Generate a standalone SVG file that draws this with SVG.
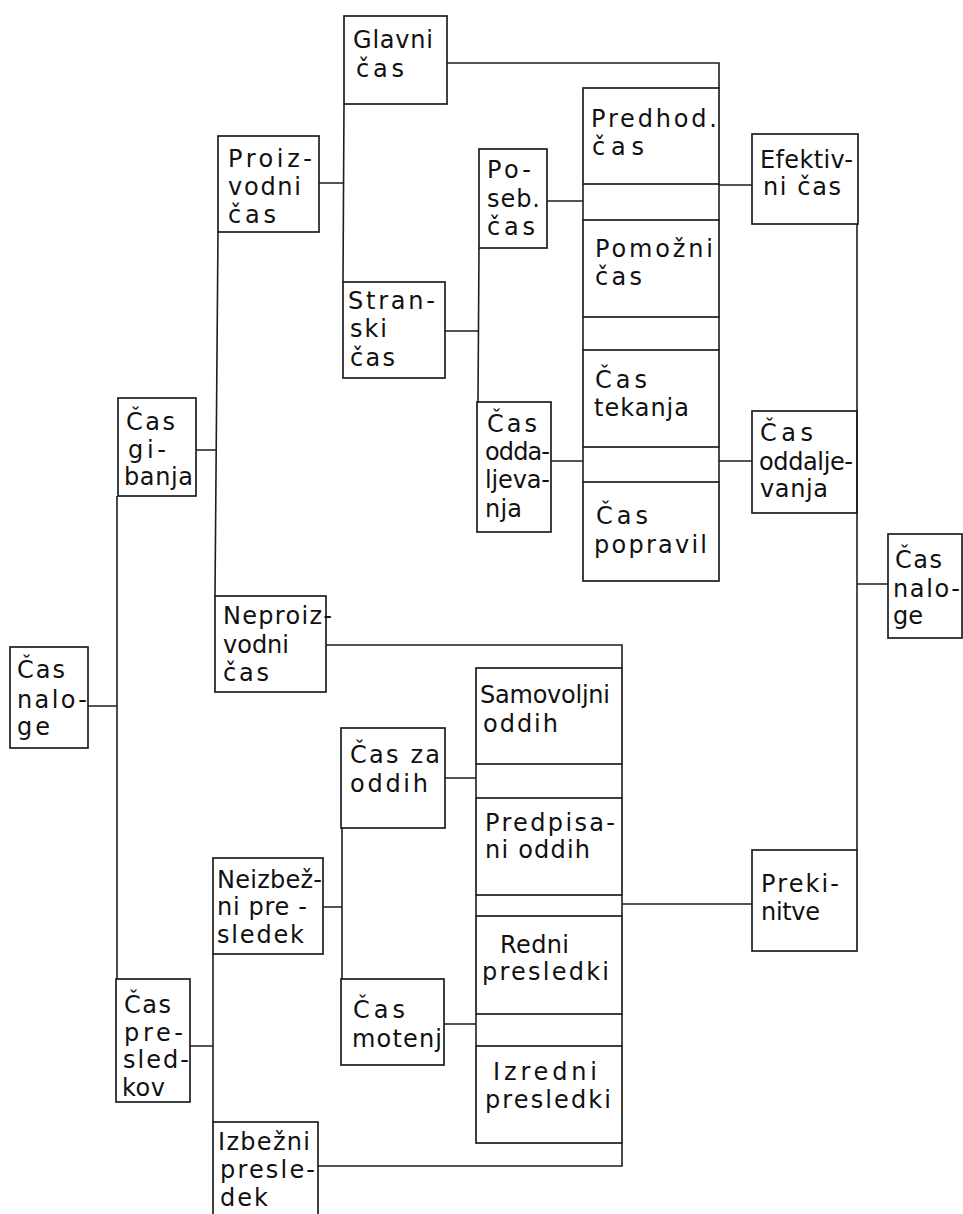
<svg xmlns="http://www.w3.org/2000/svg" width="963" height="1214" viewBox="0 0 963 1214">
<style>
.b{fill:none;stroke:#1e1e1e;stroke-width:1.7}
.c{fill:none;stroke:#1e1e1e;stroke-width:1.6}
text{font-family:"DejaVu Sans","Liberation Sans",sans-serif;font-size:24px;fill:#111}
</style>
<rect width="963" height="1214" fill="#fff"/>
<g id="connectors">
<path class="c" d="M88,706 H117 M117,496 V979"/>
<path class="c" d="M196,450 H217 M218,232 L215,596"/>
<path class="c" d="M319,183 H343 M344,104 L343,282"/>
<path class="c" d="M447,63 H719 V88"/>
<path class="c" d="M445,331 H478 M479,248 L478,402"/>
<path class="c" d="M547,201 H583 M551,461 H583"/>
<path class="c" d="M583,184 V220 M583,317 V350 M583,447 V482 M719,184 V220 M719,317 V350 M719,447 V482"/>
<path class="c" d="M719,185 H752 M719,461 H752"/>
<path class="c" d="M857,224 V850 M857,584 H888"/>
<path class="c" d="M326,645 H622 V668"/>
<path class="c" d="M445,778 H476 M323,907 H342 M342,828 V979 M444,1024 H476"/>
<path class="c" d="M476,764 V798 M476,895 V916 M476,1014 V1046 M622,764 V798 M622,895 V916 M622,1014 V1046"/>
<path class="c" d="M622,1143 V1166 H318 M622,904 H752"/>
<path class="c" d="M190,1046 H213 M213,954 V1122"/>
</g>
<g id="cas-naloge-left"><rect class="b" x="10" y="647" width="78" height="101"/><text x="17" y="678" textLength="48">Čas</text><text x="17" y="708" textLength="70">nalo-</text><text x="17" y="735" textLength="33">ge</text></g>
<g id="cas-gibanja"><rect class="b" x="118" y="398" width="78" height="98"/><text x="126" y="430" textLength="49">Čas</text><text x="128" y="458" textLength="38">gi-</text><text x="124" y="485" textLength="69">banja</text></g>
<g id="cas-presledkov"><rect class="b" x="116" y="979" width="74" height="123"/><text x="124" y="1013" textLength="47">Čas</text><text x="124" y="1041" textLength="59">pre-</text><text x="123" y="1068" textLength="66">sled-</text><text x="122" y="1096" textLength="43">kov</text></g>
<g id="proizvodni-cas"><rect class="b" x="218" y="136" width="101" height="96"/><text x="228" y="167" textLength="84">Proiz-</text><text x="228" y="195" textLength="73">vodni</text><text x="228" y="223" textLength="48">čas</text></g>
<g id="neproizvodni-cas"><rect class="b" x="215" y="596" width="111" height="96"/><text x="223" y="624" textLength="109">Neproiz-</text><text x="223" y="653" textLength="66">vodni</text><text x="223" y="681" textLength="46">čas</text></g>
<g id="neizbezni-presledek"><rect class="b" x="213" y="858" width="110" height="96"/><text x="217" y="888" textLength="105">Neizbež-</text><text x="217" y="915" textLength="90">ni pre -</text><text x="217" y="943" textLength="87">sledek</text></g>
<g id="izbezni-presledek"><rect class="b" x="213" y="1122" width="105" height="100"/><text x="218" y="1150" textLength="92">Izbežni</text><text x="220" y="1178" textLength="95">presle-</text><text x="220" y="1206" textLength="48">dek</text></g>
<g id="glavni-cas"><rect class="b" x="344" y="16" width="103" height="88"/><text x="353" y="48" textLength="80">Glavni</text><text x="356" y="77" textLength="48">čas</text></g>
<g id="stranski-cas"><rect class="b" x="343" y="282" width="102" height="96"/><text x="348" y="309" textLength="87">Stran-</text><text x="350" y="337" textLength="37">ski</text><text x="350" y="366" textLength="45">čas</text></g>
<g id="cas-za-oddih"><rect class="b" x="341" y="728" width="104" height="100"/><text x="350" y="763" textLength="90">Čas za</text><text x="350" y="792" textLength="78">oddih</text></g>
<g id="cas-motenj"><rect class="b" x="341" y="979" width="103" height="86"/><text x="353" y="1018" textLength="52">Čas</text><text x="352" y="1047" textLength="90">motenj</text></g>
<g id="poseb-cas"><rect class="b" x="479" y="149" width="68" height="99"/><text x="487" y="178" textLength="44">Po-</text><text x="487" y="207" textLength="53">seb.</text><text x="487" y="235" textLength="48">čas</text></g>
<g id="cas-oddaljevanja-left"><rect class="b" x="477" y="402" width="74" height="130"/><text x="487" y="432" textLength="50">Čas</text><text x="485" y="460" textLength="65">odda-</text><text x="485" y="488" textLength="65">ljeva-</text><text x="485" y="517" textLength="37">nja</text></g>
<g id="predhod-cas"><rect class="b" x="583" y="88" width="136" height="96"/><text x="591" y="127" textLength="126">Predhod.</text><text x="592" y="155" textLength="52">čas</text></g>
<g id="pomozni-cas"><rect class="b" x="583" y="220" width="136" height="97"/><text x="595" y="257" textLength="118">Pomožni</text><text x="595" y="285" textLength="47">čas</text></g>
<g id="cas-tekanja"><rect class="b" x="583" y="350" width="136" height="97"/><text x="595" y="388" textLength="52">Čas</text><text x="594" y="416" textLength="95">tekanja</text></g>
<g id="cas-popravil"><rect class="b" x="583" y="482" width="136" height="99"/><text x="596" y="524" textLength="52">Čas</text><text x="594" y="553" textLength="113">popravil</text></g>
<g id="samovoljni-oddih"><rect class="b" x="476" y="668" width="146" height="96"/><text x="480" y="703" textLength="130">Samovoljni</text><text x="483" y="732" textLength="75">oddih</text></g>
<g id="predpisani-oddih"><rect class="b" x="476" y="798" width="146" height="97"/><text x="485" y="831" textLength="130">Predpisa-</text><text x="485" y="858" textLength="105">ni oddih</text></g>
<g id="redni-presledki"><rect class="b" x="476" y="916" width="146" height="98"/><text x="500" y="953" textLength="69">Redni</text><text x="482" y="980" textLength="127">presledki</text></g>
<g id="izredni-presledki"><rect class="b" x="476" y="1046" width="146" height="97"/><text x="493" y="1080" textLength="104">Izredni</text><text x="485" y="1108" textLength="126">presledki</text></g>
<g id="efektivni-cas"><rect class="b" x="752" y="134" width="106" height="90"/><text x="760" y="168" textLength="93">Efektiv-</text><text x="763" y="195" textLength="78">ni čas</text></g>
<g id="cas-oddaljevanja-right"><rect class="b" x="752" y="411" width="105" height="102"/><text x="760" y="441" textLength="53">Čas</text><text x="759" y="470" textLength="94">oddalje-</text><text x="760" y="497" textLength="68">vanja</text></g>
<g id="prekinitve"><rect class="b" x="752" y="850" width="105" height="101"/><text x="761" y="892" textLength="78">Preki-</text><text x="761" y="920" textLength="59">nitve</text></g>
<g id="cas-naloge-right"><rect class="b" x="888" y="534" width="74" height="104"/><text x="895" y="568" textLength="47">Čas</text><text x="893" y="597" textLength="67">nalo-</text><text x="893" y="624" textLength="30">ge</text></g>
</svg>
